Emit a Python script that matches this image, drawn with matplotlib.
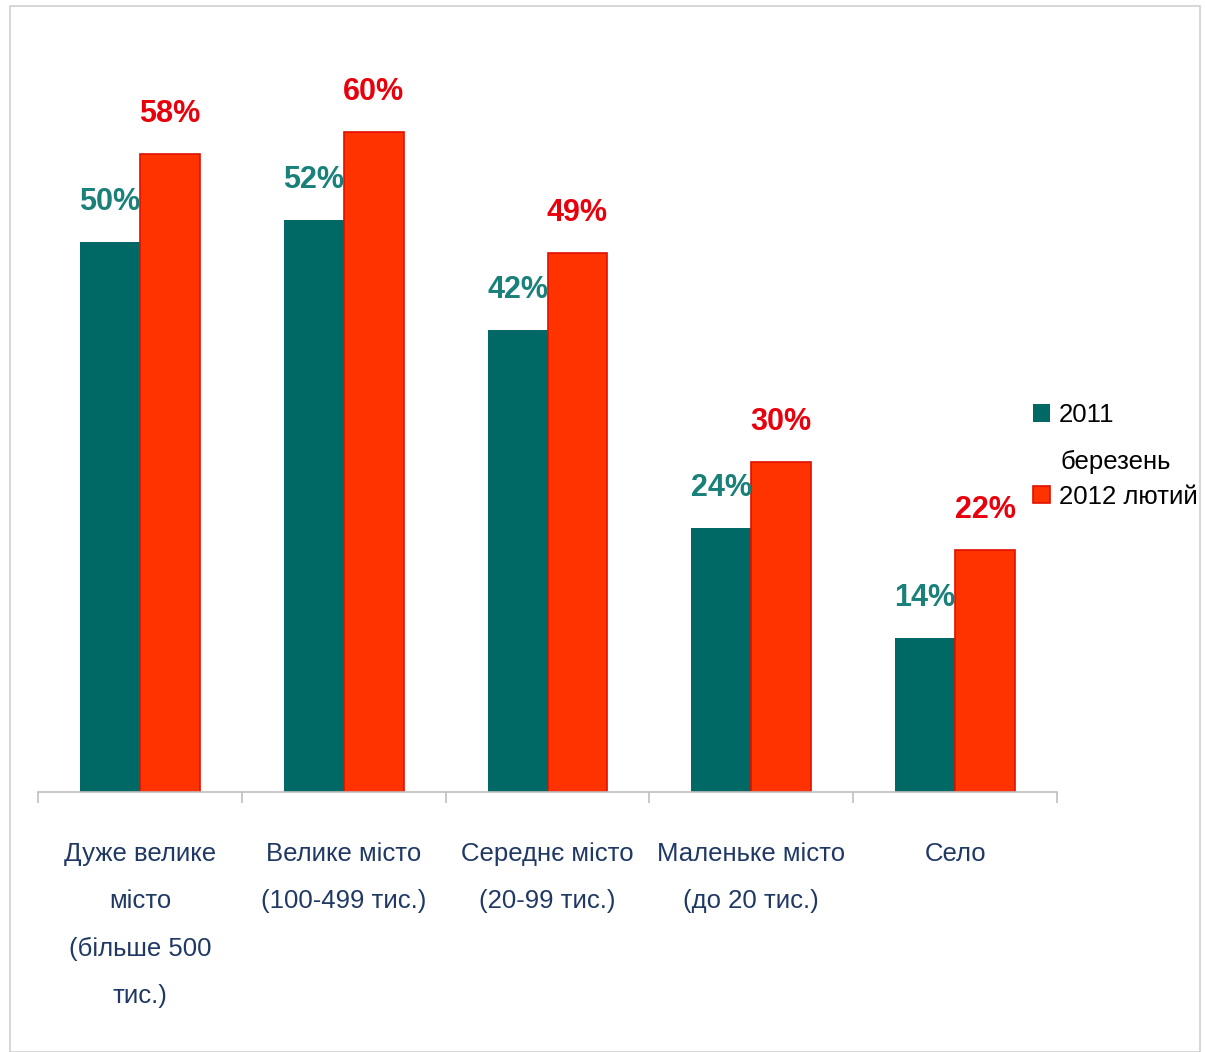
import matplotlib
matplotlib.use("Agg")
import matplotlib.pyplot as plt
from matplotlib.patches import Rectangle
import numpy as np

categories = ["Дуже велике\nмісто\n(більше 500\nтис.)",
              "Велике місто\n(100-499 тис.)",
              "Середнє місто\n(20-99 тис.)",
              "Маленьке місто\n(до 20 тис.)",
              "Село"]
series_names = ["2011 березень", "2012 лютий"]
values_2011 = [50, 52, 42, 24, 14]
values_2012 = [58, 60, 49, 30, 22]

plt.rcParams['font.family'] = ['Liberation Sans', 'DejaVu Sans']

teal = "#006865"
red = "#FF3300"
teal_txt = "#1A807A"
red_txt = "#E8000C"
navy = "#1F3864"

fig = plt.figure(figsize=(12.05, 10.52), dpi=100)
fig.patches.append(Rectangle((10/1205, 0), 1190/1205, 1 - 6/1052, transform=fig.transFigure,
                             fill=False, edgecolor="#D0D0D0", linewidth=1.2))
ax = fig.add_axes([38/1205, 1 - 792/1052, (1057 - 38)/1205, 770/1052])

x = np.arange(len(categories))
w = 0.294
b1 = ax.bar(x - w/2, values_2011, w, color=teal, label=series_names[0], zorder=2)
b2 = ax.bar(x + w/2, values_2012, w, color=red, edgecolor="#E01000", linewidth=1.2,
            label=series_names[1], zorder=2)

for rect, v in zip(b1, values_2011):
    ax.annotate(f"{v}%", (rect.get_x() + rect.get_width()/2, v), xytext=(0, 18),
                textcoords="offset points", ha="center", va="bottom",
                fontsize=22, fontweight="bold", color=teal_txt)
for rect, v in zip(b2, values_2012):
    ax.annotate(f"{v}%", (rect.get_x() + rect.get_width()/2, v), xytext=(0, 18),
                textcoords="offset points", ha="center", va="bottom",
                fontsize=22, fontweight="bold", color=red_txt)

ax.set_xlim(-0.5, len(categories) - 0.5)
ax.set_ylim(0, 70)
for s in ["top", "right", "left"]:
    ax.spines[s].set_visible(False)
ax.spines["bottom"].set_color("#BFBFBF")
ax.spines["bottom"].set_linewidth(1.2)
ax.set_yticks([])

ax.set_xticks(np.arange(-0.5, len(categories)), minor=False)
ax.set_xticklabels([])
ax.tick_params(axis="x", length=8, color="#BFBFBF", width=1.2, direction="out")
ax.set_xticks(x, minor=True)
ax.set_xticklabels(categories, minor=True)
ax.tick_params(axis="x", which="minor", length=0, pad=36, labelsize=18.5, labelcolor=navy)
for t in ax.get_xticklabels(minor=True):
    t.set_linespacing(2.23)
    t.set_va("top")

# legend: first series label wraps onto a second line in the reference
first, rest = series_names[0].split(" ", 1)
leg = ax.legend([b1, b2], [first, series_names[1]], loc="upper left",
                bbox_to_anchor=(1033/1205, 1 - 403/1052),
                bbox_transform=fig.transFigure, frameon=False, fontsize=18.5,
                handlelength=0.65, handleheight=0.65, handletextpad=0.35,
                labelspacing=2.24, borderpad=0, borderaxespad=0)
fig.text(1061/1205, 1 - 462/1052, rest, fontsize=18.5, va="center", ha="left", color="black")

fig.savefig("out.png", dpi=100)
